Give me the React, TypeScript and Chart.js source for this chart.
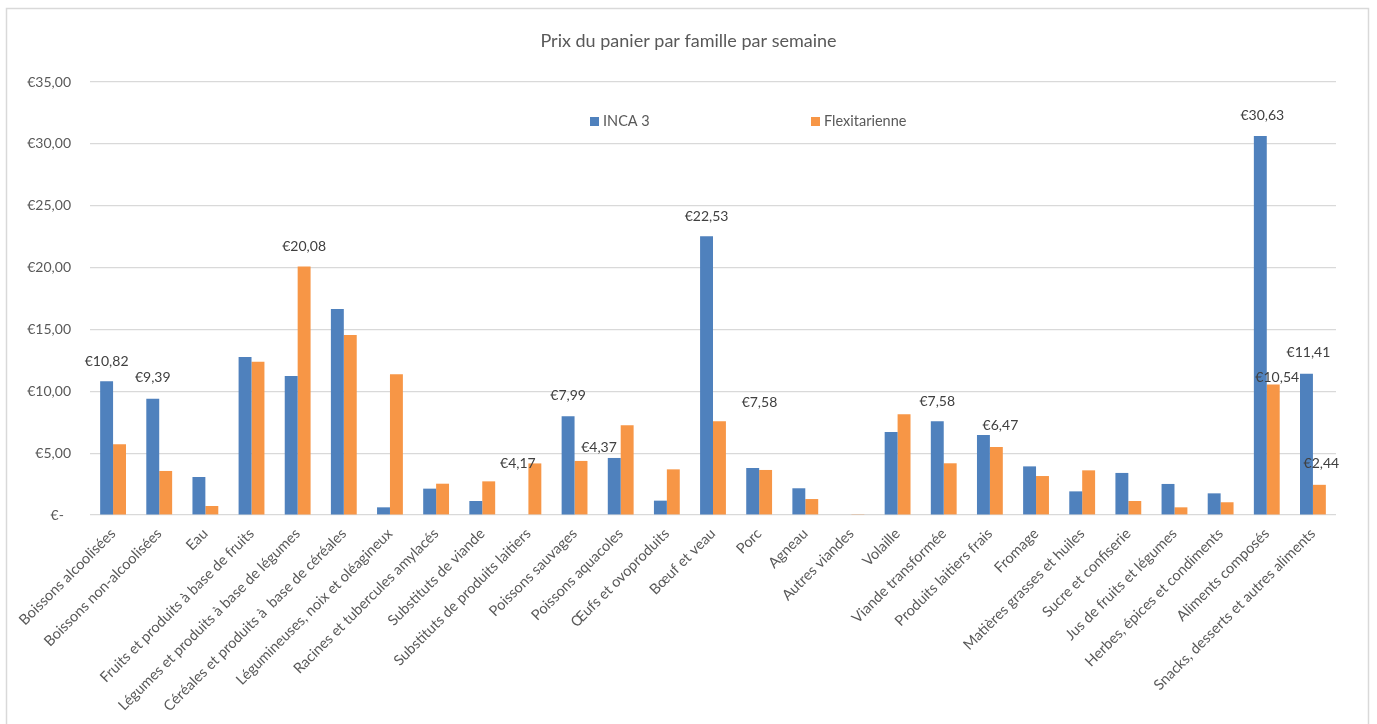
import React, { useEffect, useRef } from "react";
import { Chart, registerables } from "chart.js";

Chart.register(...registerables);

const chartTitle = "Prix du panier par famille par semaine";

const categories = [
  "Boissons alcoolisées",
  "Boissons non-alcoolisées",
  "Eau",
  "Fruits et produits à base de fruits",
  "Légumes et produits à base de légumes",
  "Céréales et produits à  base de céréales",
  "Légumineuses, noix et oléagineux",
  "Racines et tubercules amylacés",
  "Substituts de viande",
  "Substituts de produits laitiers",
  "Poissons sauvages",
  "Poissons aquacoles",
  "Œufs et ovoproduits",
  "Bœuf et veau",
  "Porc",
  "Agneau",
  "Autres viandes",
  "Volaille",
  "Viande transformée",
  "Produits laitiers frais",
  "Fromage",
  "Matières grasses et huiles",
  "Sucre et confiserie",
  "Jus de fruits et légumes",
  "Herbes, épices et condiments",
  "Aliments composés",
  "Snacks, desserts et autres aliments",
];

const seriesNames = ["INCA 3", "Flexitarienne"];

const inca3 = [
  10.82, 9.39, 3.07, 12.77, 11.24, 16.65, 0.62, 2.13, 1.13, 0, 7.99, 4.61, 1.16,
  22.53, 3.8, 2.16, 0.05, 6.71, 7.58, 6.47, 3.93, 1.91, 3.4, 2.51, 1.75, 30.63,
  11.41,
];

const flexitarienne = [
  5.71, 3.56, 0.73, 12.39, 20.08, 14.55, 11.37, 2.53, 2.72, 4.17, 4.37, 7.25,
  3.69, 7.58, 3.64, 1.29, 0.03, 8.14, 4.18, 5.5, 3.15, 3.61, 1.13, 0.62, 1.03,
  10.54, 2.44,
];

const yMin = 0;
const yMax = 35;
const yStep = 5;

// which bars carry a value label (series index, category index)
const labelSeries = [0, 0, 1, 1, 0, 1, 0, 1, 0, 0, 0, 1, 0, 1];
const labelIndex = [0, 1, 4, 9, 10, 10, 13, 13, 18, 19, 25, 25, 26, 26];

const FONT = "Lato, 'Open Sans', sans-serif";
const BLUE = "#4F81BD";
const ORANGE = "#F79646";

function fmtEuro(v: number): string {
  if (v === 0) return "€-  ";
  return "€" + v.toFixed(2).replace(".", ",");
}

export default function App() {
  const canvasRef = useRef<HTMLCanvasElement | null>(null);

  useEffect(() => {
    if (!canvasRef.current) return;

    // label offsets (style only): [dx, dy] relative to bar top
    const labelShift: [number, number][] = [
      [0, -20],
      [0, -21],
      [0, -20],
      [-17, 0],
      [0, -21],
      [18, -13],
      [0, -20],
      [40, -19],
      [0, -20],
      [17, -9],
      [2, -21],
      [4, -7],
      [2, -21],
      [2, -21],
    ];

    const framePlugin = {
      id: "frame",
      beforeDraw(chart: any) {
        const ctx = chart.ctx;
        ctx.save();
        ctx.fillStyle = "#ffffff";
        ctx.fillRect(0, 0, chart.width, chart.height);
        ctx.strokeStyle = "#d9d9d9";
        ctx.lineWidth = 1.5;
        ctx.strokeRect(6.5, 8.5, 1362, 730);
        ctx.restore();
      },
    };

    const valueLabelPlugin = {
      id: "valueLabels",
      afterDatasetsDraw(chart: any) {
        const ctx = chart.ctx;
        ctx.save();
        ctx.font = `14px ${FONT}`;
        ctx.fillStyle = "#404040";
        ctx.textAlign = "center";
        ctx.textBaseline = "middle";
        labelSeries.forEach((s, k) => {
          const i = labelIndex[k];
          const el = chart.getDatasetMeta(s).data[i];
          const v = chart.data.datasets[s].data[i] as number;
          const [dx, dy] = labelShift[k];
          ctx.fillText(fmtEuro(v), el.x + dx, el.y + dy);
        });
        ctx.restore();
      },
    };

    const legendPlugin = {
      id: "floatLegend",
      afterDraw(chart: any) {
        const ctx = chart.ctx;
        const items = [
          { x: 590, color: BLUE, text: seriesNames[0] },
          { x: 811, color: ORANGE, text: seriesNames[1] },
        ];
        const y = 121.5;
        ctx.save();
        ctx.font = `14.5px ${FONT}`;
        ctx.textAlign = "left";
        ctx.textBaseline = "middle";
        items.forEach((it) => {
          ctx.fillStyle = it.color;
          ctx.fillRect(it.x, y - 4.5, 9, 9);
          ctx.fillStyle = "#595959";
          ctx.fillText(it.text, it.x + 13, y);
        });
        ctx.restore();
      },
    };

    const chart = new Chart(canvasRef.current, {
      type: "bar",
      data: {
        labels: categories,
        datasets: [
          {
            label: seriesNames[0],
            data: inca3,
            backgroundColor: BLUE,
            borderWidth: 0,
            categoryPercentage: 0.56,
            barPercentage: 1.0,
            yAxisID: "y",
          },
          {
            label: seriesNames[1],
            data: flexitarienne,
            backgroundColor: ORANGE,
            borderWidth: 0,
            categoryPercentage: 0.56,
            barPercentage: 1.0,
            yAxisID: "y",
          },
        ],
      },
      options: {
        animation: false,
        responsive: true,
        maintainAspectRatio: false,
        layout: { padding: { left: 0, right: 0, top: 0, bottom: 0 } },
        plugins: {
          legend: { display: false },
          tooltip: { enabled: false },
          title: {
            display: true,
            text: chartTitle,
            color: "#595959",
            font: { family: FONT, size: 18, weight: "normal" },
            padding: { top: 30, bottom: 30.4 },
          },
        },
        scales: {
          x: {
            grid: { display: false, drawTicks: false },
            border: { display: false },
            ticks: {
              autoSkip: false,
              maxRotation: 45,
              minRotation: 45,
              padding: 10,
              color: "#595959",
              font: { family: FONT, size: 14.6 },
            },
            afterFit(scale: any) {
              scale.height = 209;
            },
          },
          y: {
            min: yMin,
            max: yMax,
            grid: { color: "#d9d9d9", lineWidth: 1.2, drawTicks: false },
            border: { display: false },
            ticks: {
              stepSize: yStep,
              padding: 19,
              color: "#595959",
              font: { family: FONT, size: 14 },
              callback: (v: any) => fmtEuro(Number(v)),
            },
            afterFit(scale: any) {
              scale.width = 90;
            },
          },
          spacer: {
            type: "linear",
            position: "right",
            min: yMin,
            max: yMax,
            grid: { display: false, drawOnChartArea: false },
            border: { display: false },
            ticks: { display: false },
            afterFit(scale: any) {
              scale.width = 41;
            },
          },
        },
      },
      plugins: [framePlugin, valueLabelPlugin, legendPlugin],
    });

    return () => chart.destroy();
  }, []);

  return (
    <div style={{ position: "fixed", left: 0, top: 0, width: 1377, height: 724 }}>
      <canvas ref={canvasRef} />
    </div>
  );
}
